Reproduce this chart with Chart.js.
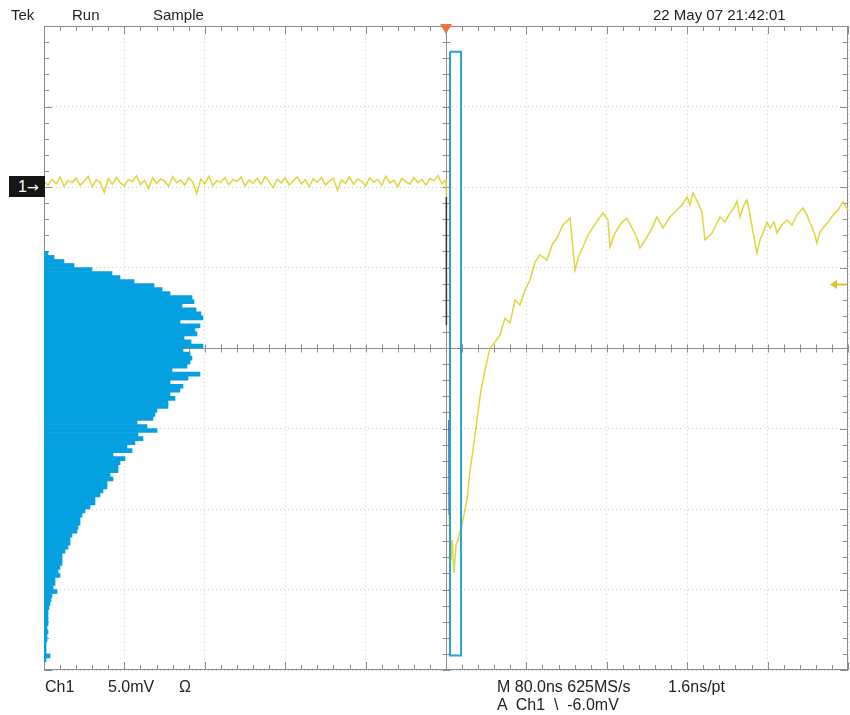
<!DOCTYPE html>
<html>
<head>
<meta charset="utf-8">
<script src="https://cdn.jsdelivr.net/npm/chart.js@4.4.1/dist/chart.umd.min.js"></script>
<style>
  body { margin: 0; background: #fff; }
  #wrap { position: relative; width: 850px; height: 715px; font-family: "Liberation Sans", Arial, sans-serif; color: #222; }
  #scope { display: block; }
  .lbl { position: absolute; white-space: pre; line-height: 1; font-size: 16px; }
  .hdr { font-size: 15px; top: 7px; }
  #gnd { position: absolute; left: 9px; top: 176px; width: 36px; height: 21px; background: #151515; color: #fff;
         font-size: 16px; line-height: 21px; padding-left: 9px; box-sizing: border-box; white-space: pre; }
  #gnd span { font-family: "DejaVu Sans", sans-serif; font-size: 14px; }
</style>
</head>
<body>
<div id="wrap">
  <canvas id="scope"></canvas>
  <div class="lbl hdr" style="left:11px">Tek</div>
  <div class="lbl hdr" style="left:72px">Run</div>
  <div class="lbl hdr" style="left:153px">Sample</div>
  <div class="lbl hdr" style="left:653px">22 May 07 21:42:01</div>
  <div id="gnd">1<span>→</span></div>
  <div class="lbl" style="left:45px;top:679px">Ch1</div>
  <div class="lbl" style="left:108px;top:679px">5.0mV</div>
  <div class="lbl" style="left:179px;top:679px">Ω</div>
  <div class="lbl" style="left:497px;top:679px">M 80.0ns 625MS/s</div>
  <div class="lbl" style="left:668px;top:679px">1.6ns/pt</div>
  <div class="lbl" style="left:497px;top:697px">A  Ch1  \  -6.0mV</div>
</div>
<script>
// time in ns (80 ns/div, trigger at 0), voltage in mV (5 mV/div)
const preStart = -400;
const preStep = 4;
const preMv = [
  0.35, 0.12, 0.48, 0.20, 0.62, 0.05, 0.41, 0.28, 0.55, 0.10,
  0.38, 0.66, 0.02, 0.45, 0.30, -0.35, 0.52, 0.18, 0.60, 0.25,
  0.08, 0.47, 0.33, 0.70, 0.15, 0.42, -0.10, 0.58, 0.22, 0.50,
  0.36, 0.04, 0.64, 0.27, 0.44, 0.12, 0.56, 0.31, -0.42, 0.49,
  0.21, 0.67, 0.09, 0.40, 0.29, 0.59, 0.14, 0.46, 0.34, 0.61,
  0.06, 0.43, 0.24, 0.53, 0.17, 0.65, 0.32, -0.05, 0.48, 0.26,
  0.57, 0.11, 0.39, 0.63, 0.19, 0.45, 0.03, 0.51, 0.28, 0.60,
  0.13, 0.37, 0.55, -0.20, 0.44, 0.23, 0.62, 0.16, 0.50, 0.35,
  0.07, 0.58, 0.30, 0.47, 0.10, 0.66, 0.25, 0.41, 0.02, 0.54,
  0.33, 0.18, 0.59, 0.27, 0.48, 0.12, 0.52, 0.38, 0.72, 0.20, 0.45
];
const postTime = [
  0.3, 0.4, 3.0, 3.2, 5.0, 6.0, 8.0, 10.0, 11.9, 16.9,
  20.9, 23.9, 26.9, 30.8, 34.8, 38.8, 43.8, 48.8, 53.7, 58.7,
  63.7, 68.7, 73.6, 78.6, 83.6, 88.6, 93.5, 100.5, 105.5, 110.4,
  116.4, 123.4, 128.4, 132.3, 136.3, 141.3, 146.3, 151.2, 156.2, 161.2,
  163.2, 167.2, 170.1, 175.1, 180.1, 186.1, 190.0, 193.0, 200.0, 205.0,
  209.9, 215.9, 222.9, 229.8, 234.8, 239.8, 242.8, 245.8, 250.7, 254.7,
  257.7, 264.7, 268.7, 272.6, 277.6, 282.6, 286.6, 289.5, 292.5, 296.5,
  299.5, 302.5, 305.5, 309.4, 312.4, 315.4, 319.4, 322.4, 326.4, 329.3,
  334.3, 339.3, 344.3, 349.2, 355.2, 359.2, 362.2, 366.2, 369.1, 372.1,
  375.1, 380.1, 385.1, 390.0, 395.0, 400.0
];
const postMv = [
  -0.62, -8.57, -14.47, -20.37, -23.2, -21.92, -23.97, -22.23, -21.92, -20.68,
  -19.44, -17.58, -16.33, -14.47, -12.61, -11.37, -10.0, -9.63, -9.19, -8.14,
  -8.45, -7.02, -7.33, -6.40, -5.78, -4.66, -4.22, -4.54, -3.60, -3.17,
  -2.36, -1.93, -5.16, -4.22, -3.73, -2.98, -2.49, -2.05, -1.62, -2.05,
  -3.73, -2.98, -2.67, -2.18, -1.93, -2.67, -3.17, -3.79, -3.11, -2.55,
  -1.86, -2.55, -1.86, -1.43, -1.12, -0.62, -1.12, -0.37, -0.99, -1.55,
  -3.29, -2.86, -2.36, -1.86, -2.18, -1.62, -1.31, -0.87, -1.86, -1.12,
  -0.81, -1.74, -2.80, -4.10, -3.29, -2.86, -2.18, -2.55, -2.18, -2.86,
  -2.36, -2.05, -2.36, -1.74, -1.31, -1.74, -2.24, -2.80, -3.48, -2.80,
  -2.55, -2.18, -1.74, -1.43, -0.93, -1.43
];
// vertical histogram, bins of 0.25 mV from -4.0 mV downwards
const histTop = -4.0;
const histBin = 0.25;
const histCounts = [
  4, 10, 20, 30, 48, 68, 76, 90, 110, 118,
  126, 148, 150, 138, 152, 157, 159, 136, 156, 151,
  153, 140, 147, 159, 139, 146, 148, 146, 143, 128,
  156, 144, 126, 139, 136, 126, 131, 124, 124, 113,
  111, 109, 93, 103, 113, 94, 99, 91, 83, 88,
  69, 81, 76, 74, 74, 66, 69, 63, 63, 59,
  56, 51, 51, 46, 41, 38, 36, 36, 34, 33,
  28, 26, 26, 24, 21, 18, 18, 18, 16, 14,
  16, 11, 11, 9, 13, 8, 7, 6, 5, 4,
  4, 4, 4, 3, 4, 3, 3, 2, 2, 2,
  6, 2
];
const histBoxTime = [4, 15];
const histBoxMv = [8.4, -29.1];
const triggerLevel = -6.0;

const trace = preMv.map((v, i) => ({ x: preStart + i * preStep, y: v }))
  .concat(postTime.map((t, i) => ({ x: t, y: postMv[i] })));
const hist = histCounts.map((c, i) => ({ x: c, y: histTop - (i + 0.5) * histBin }));
const box = [
  { x: histBoxTime[0], y: histBoxMv[0] }, { x: histBoxTime[1], y: histBoxMv[0] },
  { x: histBoxTime[1], y: histBoxMv[1] }, { x: histBoxTime[0], y: histBoxMv[1] },
  { x: histBoxTime[0], y: histBoxMv[0] }
];

const scopeDecor = {
  id: 'scopeDecor',
  beforeDatasetsDraw(chart) {
    const { ctx, chartArea: a, scales: { x, y } } = chart;
    ctx.save();
    ctx.strokeStyle = '#8c8c8c';
    ctx.lineWidth = 1;
    ctx.strokeRect(a.left + 0.5, a.top + 0.5, a.right - a.left - 1, a.bottom - a.top - 1);
    const cx = Math.round(x.getPixelForValue(0)) + 0.5;
    const cy = Math.round(y.getPixelForValue(-10)) + 0.5;
    ctx.beginPath();
    ctx.moveTo(a.left, cy); ctx.lineTo(a.right, cy);
    ctx.moveTo(cx, a.top); ctx.lineTo(cx, a.bottom);
    for (let t = -400; t <= 400; t += 16) {
      const px = Math.round(x.getPixelForValue(t)) + 0.5;
      const len = t % 80 === 0 ? 8 : 5;
      ctx.moveTo(px, a.top); ctx.lineTo(px, a.top + len);
      ctx.moveTo(px, a.bottom); ctx.lineTo(px, a.bottom - len);
      ctx.moveTo(px, cy - 4); ctx.lineTo(px, cy + 4);
    }
    for (let v = -30; v <= 10; v += 1) {
      const py = Math.round(y.getPixelForValue(v)) + 0.5;
      const len = v % 5 === 0 ? 8 : 5;
      ctx.moveTo(a.left, py); ctx.lineTo(a.left + len, py);
      ctx.moveTo(a.right, py); ctx.lineTo(a.right - len, py);
      ctx.moveTo(cx - 4, py); ctx.lineTo(cx + 4, py);
    }
    ctx.stroke();
    ctx.restore();
  },
  afterDatasetsDraw(chart) {
    const { ctx, chartArea: a, scales: { x, y } } = chart;
    ctx.save();
    // trigger position
    const tx = x.getPixelForValue(0);
    ctx.fillStyle = '#e8763c';
    ctx.beginPath();
    ctx.moveTo(tx - 6, a.top - 2); ctx.lineTo(tx + 6, a.top - 2); ctx.lineTo(tx, a.top + 8);
    ctx.closePath(); ctx.fill();
    // trigger level
    const ty = Math.round(y.getPixelForValue(triggerLevel)) + 0.5;
    ctx.strokeStyle = '#dfc02e'; ctx.fillStyle = '#dfc02e'; ctx.lineWidth = 2;
    ctx.beginPath(); ctx.moveTo(a.right - 2, ty); ctx.lineTo(a.right - 12, ty); ctx.stroke();
    ctx.beginPath();
    ctx.moveTo(a.right - 18, ty); ctx.lineTo(a.right - 11, ty - 4.5); ctx.lineTo(a.right - 11, ty + 4.5);
    ctx.closePath(); ctx.fill();
    ctx.restore();
  }
};

new Chart(document.getElementById('scope'), {
  type: 'line',
  data: {
    datasets: [{
      type: 'bar',
      indexAxis: 'y',
      xAxisID: 'xh',
      yAxisID: 'y',
      data: hist,
      backgroundColor: '#05a0e0',
      borderWidth: 0,
      barPercentage: 1,
      categoryPercentage: 1,
      grouped: false,
      order: 3
    }, {
      data: trace,
      borderColor: 'rgba(220,208,40,0.9)',
      borderWidth: 1.5,
      pointRadius: 0,
      tension: 0,
      order: 2,
      segment: {
        borderColor: c => {
          const x0 = c.p0.parsed.x, x1 = c.p1.parsed.x;
          if (x0 >= 0.3 && x1 <= 0.4) return '#3b3a2a';
          if (x0 >= 0.4 && x1 <= 3.0) return 'rgba(0,0,0,0)';
          if (x0 >= 3.0 && x1 <= 3.2) return '#1d5c8c';
          return undefined;
        }
      }
    }, {
      data: box,
      borderColor: '#2a9fd0',
      borderWidth: 2,
      pointRadius: 0,
      tension: 0,
      order: 1
    }]
  },
  options: {
    responsive: true,
    maintainAspectRatio: false,
    animation: false,
    layout: { padding: { left: 44, top: 26, right: 2, bottom: 45 } },
    datasets: { bar: { barPercentage: 1, categoryPercentage: 1, grouped: false } },
    plugins: { legend: { display: false }, tooltip: { enabled: false } },
    scales: {
      x: {
        type: 'linear', min: -400, max: 400, offset: false,
        ticks: { display: false, stepSize: 80 },
        grid: { color: '#cdcdcd', drawTicks: false, offset: false },
        border: { display: false, dash: [1, 3] }
      },
      y: {
        type: 'linear', min: -30, max: 10, offset: false,
        ticks: { display: false, stepSize: 5 },
        grid: { color: '#cdcdcd', drawTicks: false, offset: false },
        border: { display: false, dash: [1, 3] }
      },
      xh: { type: 'linear', display: false, min: 0, max: 804, offset: false }
    }
  },
  plugins: [scopeDecor]
});
</script>
</body>
</html>
